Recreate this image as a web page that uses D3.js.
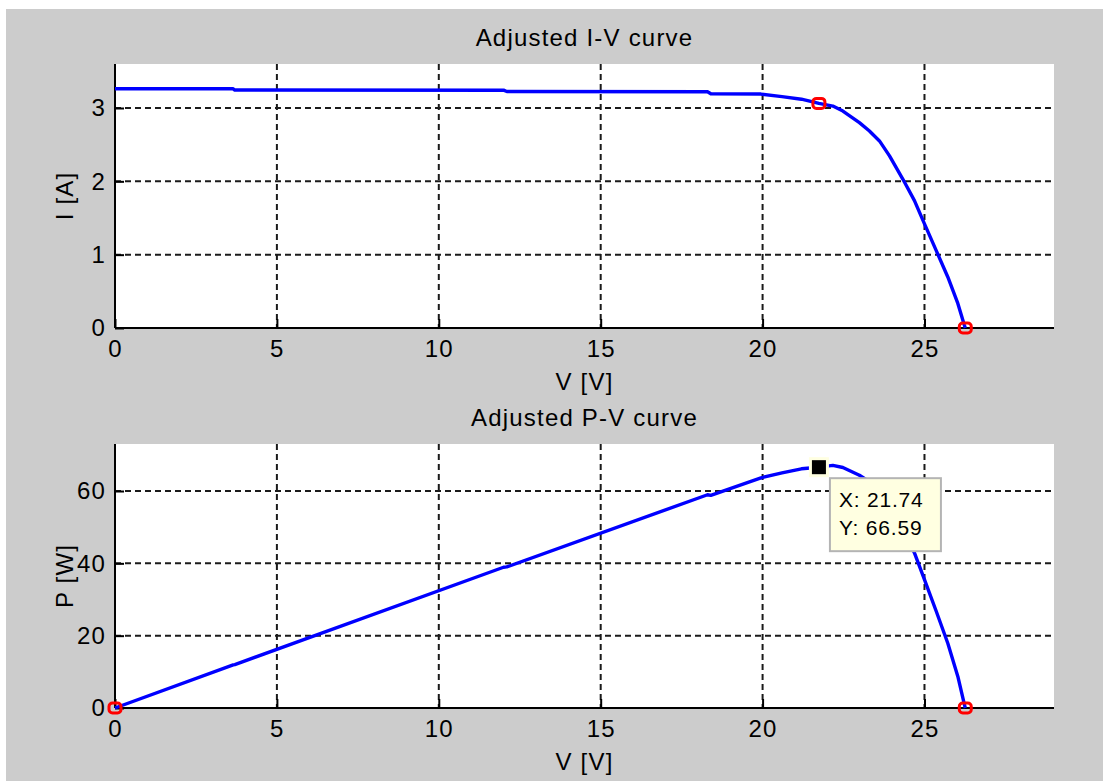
<!DOCTYPE html>
<html>
<head>
<meta charset="utf-8">
<script src="https://cdn.jsdelivr.net/npm/d3@7"></script>
<style>
  html, body { margin: 0; padding: 0; background: #ffffff; }
  svg { display: block; }
  text { font-family: "Liberation Sans", Arial, sans-serif; fill: #000; }
</style>
</head>
<body>
<svg id="fig" width="1109" height="781"></svg>
<script>
// Module voltage samples [V]
const volts = [0, 3.65, 3.7, 12.0, 12.1, 18.3, 18.4, 19.95, 20.6, 21.2, 21.74, 22.17,
               22.48, 22.99, 23.3, 23.61, 23.92, 24.33, 24.69, 25.0, 25.36, 25.72, 26.03, 26.23, 26.26];
// Module current at each voltage sample [A]
const amps  = [3.262, 3.262, 3.245, 3.243, 3.225, 3.222, 3.195, 3.19, 3.155, 3.12, 3.063, 3.026,
               2.958, 2.80, 2.687, 2.551, 2.347, 2.031, 1.737, 1.42, 1.058, 0.696, 0.335, 0.04, 0];
// Output power at each sample [W]
const watts = volts.map((v, i) => v * amps[i]);

// Axis ticks
const vTicks = [0, 5, 10, 15, 20, 25];
const iTicks = [0, 1, 2, 3];
const pTicks = [0, 20, 40, 60];

// Highlighted operating points
const mppV = 21.74, mppP = 66.59, mppI = 3.063;
const vocV = 26.26;

const svg = d3.select("#fig");
const FONT = 24;
const SPACING = 1.2;

// figure background
svg.append("rect").attr("x", 6).attr("y", 9).attr("width", 1097).attr("height", 772).attr("fill", "#cccccc");

function panel(opts) {
  const { top, bottom, yDomain, yTicks, ys, title, yLabel } = opts;
  const left = 115, right = 1054;
  const x = d3.scaleLinear().domain([0, 29]).range([left, right]);
  const y = d3.scaleLinear().domain(yDomain).range([bottom, top]);
  const g = svg.append("g");

  g.append("rect").attr("x", left).attr("y", top).attr("width", right - left).attr("height", bottom - top).attr("fill", "#fff");

  // dashed grid
  g.selectAll(".gx").data(vTicks.filter(t => t > 0)).join("line")
    .attr("x1", d => x(d)).attr("x2", d => x(d)).attr("y1", top).attr("y2", bottom)
    .attr("stroke", "#1a1a1a").attr("stroke-width", 2).attr("stroke-dasharray", "6,4");
  g.selectAll(".gy").data(yTicks.filter(t => t > 0)).join("line")
    .attr("x1", left).attr("x2", right).attr("y1", d => y(d)).attr("y2", d => y(d))
    .attr("stroke", "#1a1a1a").attr("stroke-width", 2).attr("stroke-dasharray", "6,4");

  // axes with inward ticks
  const xAxis = d3.axisBottom(x).tickValues(vTicks).tickSizeInner(-9).tickSizeOuter(0).tickFormat(d3.format("d"));
  const yAxis = d3.axisLeft(y).tickValues(yTicks).tickSizeInner(-9).tickSizeOuter(0).tickFormat(d3.format("d"));
  const gx = g.append("g").attr("transform", `translate(0,${bottom})`).call(xAxis);
  const gy = g.append("g").attr("transform", `translate(${left},0)`).call(yAxis);
  [gx, gy].forEach(a => {
    a.select(".domain").attr("stroke", "#000").attr("stroke-width", 2);
    a.selectAll(".tick line").attr("stroke", "#000").attr("stroke-width", 2);
    a.selectAll(".tick text").attr("font-size", FONT).attr("font-family", "Liberation Sans, Arial, sans-serif")
      .attr("fill", "#000").attr("letter-spacing", SPACING);
  });
  gx.select(".domain").attr("d", `M${left},0H${right}`);
  gy.select(".domain").attr("d", `M0,${top}V${bottom}`);
  gx.selectAll(".tick text").attr("dy", "0.35em").attr("y", 21);
  gy.selectAll(".tick text").attr("x", -9);

  // curve
  const line = d3.line().x((d, i) => x(volts[i])).y((d, i) => y(ys[i]));
  g.append("path").datum(ys).attr("d", line).attr("fill", "none")
    .attr("stroke", "#0000ff").attr("stroke-width", 3.4).attr("stroke-linejoin", "round");

  // titles / labels
  const lbl = (sel) => sel.attr("text-anchor", "middle").attr("font-size", FONT).attr("letter-spacing", SPACING);
  svg.append("text").attr("x", (left + right) / 2).attr("y", top - 18).call(lbl).text(title);
  svg.append("text").attr("x", (left + right) / 2).attr("y", bottom + 62).call(lbl).text("V [V]");
  svg.append("text").attr("transform", `translate(73,${(top + bottom) / 2}) rotate(-90)`).call(lbl).text(yLabel);

  return { x, y, g };
}

function ring(g, cx, cy) {
  g.append("rect").attr("x", cx - 6).attr("y", cy - 5).attr("width", 12).attr("height", 10)
    .attr("rx", 3.5).attr("ry", 3.5)
    .attr("fill", "none").attr("stroke", "#ff0000").attr("stroke-width", 3);
}

// I-V panel
const iv = panel({ top: 64, bottom: 328, yDomain: [0, 3.6], yTicks: iTicks, ys: amps, title: "Adjusted I-V curve", yLabel: "I [A]" });
ring(iv.g, iv.x(mppV), iv.y(mppI));
ring(iv.g, iv.x(vocV), iv.y(0));

// P-V panel
const pv = panel({ top: 444, bottom: 708, yDomain: [0, 73], yTicks: pTicks, ys: watts, title: "Adjusted P-V curve", yLabel: "P [W]" });
ring(pv.g, pv.x(0), pv.y(0));
ring(pv.g, pv.x(vocV), pv.y(0));

// data tip at the maximum power point
const tx = pv.x(mppV), ty = pv.y(mppP);
pv.g.append("rect").attr("x", tx - 10).attr("y", ty - 10).attr("width", 20).attr("height", 20).attr("fill", "#ffffe1");
pv.g.append("rect").attr("x", tx - 7).attr("y", ty - 7).attr("width", 14).attr("height", 14).attr("fill", "#000");
const box = pv.g.append("g").attr("transform", `translate(${tx + 11},${ty + 11})`);
box.append("rect").attr("x", 0).attr("y", 0).attr("width", 111).attr("height", 73)
  .attr("fill", "#ffffe1").attr("stroke", "#b4b4b4").attr("stroke-width", 2);
box.append("text").attr("x", 9).attr("y", 29).attr("font-size", 21).attr("letter-spacing", 0.8).text("X: " + mppV.toFixed(2));
box.append("text").attr("x", 9).attr("y", 57).attr("font-size", 21).attr("letter-spacing", 0.8).text("Y: " + mppP.toFixed(2));
</script>
</body>
</html>
